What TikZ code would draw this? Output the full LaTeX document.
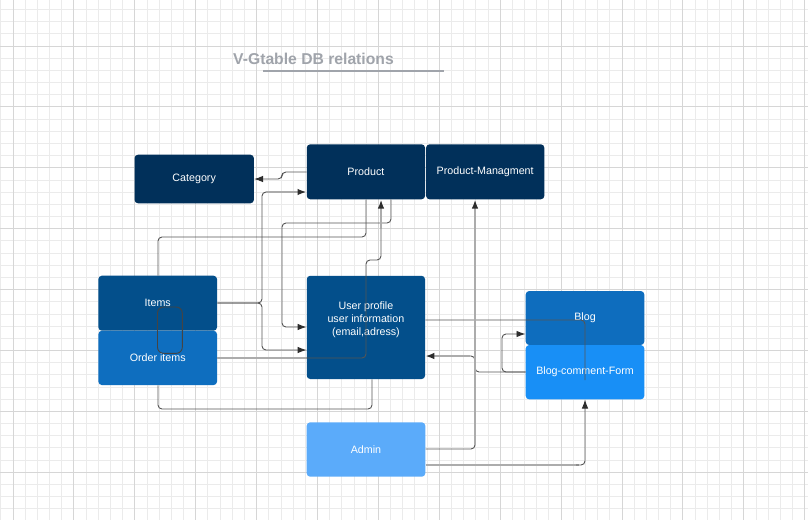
\documentclass[tikz,border=0pt]{standalone}
\usepackage{fontspec}
\setmainfont{Liberation Sans}
\usetikzlibrary{arrows.meta}
\definecolor{navy}{RGB}{1,48,90}
\definecolor{midblue}{RGB}{3,79,139}
\definecolor{ordblue}{RGB}{14,110,191}
\definecolor{blogblue}{RGB}{14,109,190}
\definecolor{bcfblue}{RGB}{24,143,246}
\definecolor{adminblue}{RGB}{91,171,250}
\definecolor{gridminor}{RGB}{235,235,235}
\definecolor{gridmajor}{RGB}{214,214,214}
\definecolor{lineDk}{RGB}{85,85,85}
\definecolor{lineLt}{RGB}{172,172,172}
\definecolor{arrowc}{RGB}{45,45,45}
\definecolor{titlec}{RGB}{160,164,171}
\begin{document}
\begin{tikzpicture}[x=1pt,y=-1pt,
  box/.style={draw=none, rounded corners=3.5pt, text=white, font=\fontsize{10.7}{13}\selectfont, inner sep=0pt, align=center},
  txt/.style={text=white, font=\fontsize{10.7}{13}\selectfont, inner sep=0pt, align=center},
  minorline/.style={draw=gridminor, line width=0.9pt},
  majorline/.style={draw=gridmajor, line width=0.9pt},
  dk/.style={draw=lineDk, line width=0.9pt, rounded corners=4pt},
  lt/.style={draw=lineLt, line width=1.8pt},
  arr/.style={-{Latex[length=9pt,width=6.5pt,color=arrowc]}}]
\useasboundingbox (0,0) rectangle (808,520);
\fill[white] (0,0) rectangle (808,520);
% grid
\foreach \i in {0,...,66}{\draw[minorline] ({0.82+12.18*\i},0) -- ({0.82+12.18*\i},520);}
\foreach \j in {0,...,41}{\draw[minorline] (0,{9.46+12.18*\j}) -- (808,{9.46+12.18*\j});}
\foreach \i in {0,...,13}{\draw[majorline] ({13+60.9*\i},0) -- ({13+60.9*\i},520);}
\foreach \j in {0,...,7}{\draw[majorline] (0,{46+60.9*\j}) -- (808,{46+60.9*\j});}
% title
\node[font=\bfseries\fontsize{15.7}{18}\selectfont, text=titlec, inner sep=0pt] (title) at (313.5,59) {V-Gtable DB relations};
\coordinate (ulA) at (263,71);
\coordinate (ulB) at (444,71);
\draw[titlec, line width=1.5pt] (ulA) -- (ulB);
% boxes
\node[box, fill=navy, minimum width=119.4pt, minimum height=48.6pt] (cat) at (194.2,179) {Category};
\node[box, fill=navy, minimum width=118.3pt, minimum height=55pt] (prod) at (365.9,171.8) {Product};
\node[box, fill=navy, minimum width=118.3pt, minimum height=55pt] (pm) at (485.2,171.8) {Product-Managment};
\node[box, fill=midblue, minimum width=118.7pt, minimum height=55pt] (items) at (157.7,303.2) {Items};
\node[box, fill=ordblue, minimum width=118.7pt, minimum height=54.3pt] (order) at (157.7,357.9) {Order items};
\node[box, fill=midblue, minimum width=118.3pt, minimum height=103.3pt] (user) at (365.9,327.4) {};
\node[txt] (usertext) at (365.9,319.5) {User profile\\user information\\(email,adress)};
\node[box, fill=blogblue, minimum width=118.6pt, minimum height=54pt] (blog) at (585,318) {Blog};
\node[box, fill=bcfblue, minimum width=118.6pt, minimum height=54.3pt] (bcf) at (585,372.2) {Blog-comment-Form};
\node[box, fill=adminblue, minimum width=118.6pt, minimum height=54.4pt] (admin) at (366,449.5) {Admin};
% loop drawn inside Items / Order items
\draw[draw=lineDk!80!black, line width=0.9pt, rounded corners=6pt] (157.5,307) rectangle (182.3,353.3);
% connectors
% Product -> Category
\draw[dk,arr] (prod.west|-0,172) -- (282,172) -- (282,179) -- (cat.east|-0,179);
% Items -> Product
\draw[dk] (items.east|-0,303) -- (262,303) -- (262,192) -- (270,192);
\draw[lt,arr] (266,192) -- (prod.west|-0,192);
% Items -> User
\draw[dk,arr] (items.east|-0,303) -- (262,303) -- (262,350) -- (user.west|-0,350);
% Product -> User
\draw[dk,arr] (prod.south-|391,0) -- (391,223) -- (282,223) -- (282,327) -- (user.west|-0,327);
% Product -> Items
\draw[dk] (prod.south-|366,0) -- (366,237) -- (158,237) -- (items.north-|158,0);
% Order items -> Product
\draw[lt] (order.east|-0,358) -- (user.west|-0,358);
\draw[dk] (user.west|-0,358) -- (366,358) -- (366,260) -- (381,260) -- (381,224);
\draw[lt,arr] (381,228) -- (prod.south-|381,0);
% Order items -> User (bottom)
\draw[dk] (order.south-|158,0) -- (158,409) -- (372,409) -- (user.south-|372,0);
% User -> Blog
\coordinate (c8end) at (585,380);
\draw[dk] (user.east|-0,320) -- (585,320) -- (c8end);
% Blog-comment-Form -> Blog
\draw[dk,arr] (bcf.west|-0,372) -- (502,372) -- (502,334) -- (blog.west|-0,334);
% Blog-comment-Form -> User
\draw[dk] (bcf.west|-0,372) -- (475,372) -- (475,356) -- (467,356);
\draw[lt,arr] (470,356) -- (user.east|-0,356);
% Admin -> Product-Managment
\draw[dk] (admin.east|-0,449) -- (475,449) -- (475,442);
\draw[lt,arr] (475,445) -- (pm.south-|475,0);
% Admin -> Blog-comment-Form
\draw[lt] (admin.east|-0,465) -- (579,465);
\draw[dk,arr] (576,465) -- (585,465) -- (bcf.south-|585,0);
\end{tikzpicture}
\end{document}
